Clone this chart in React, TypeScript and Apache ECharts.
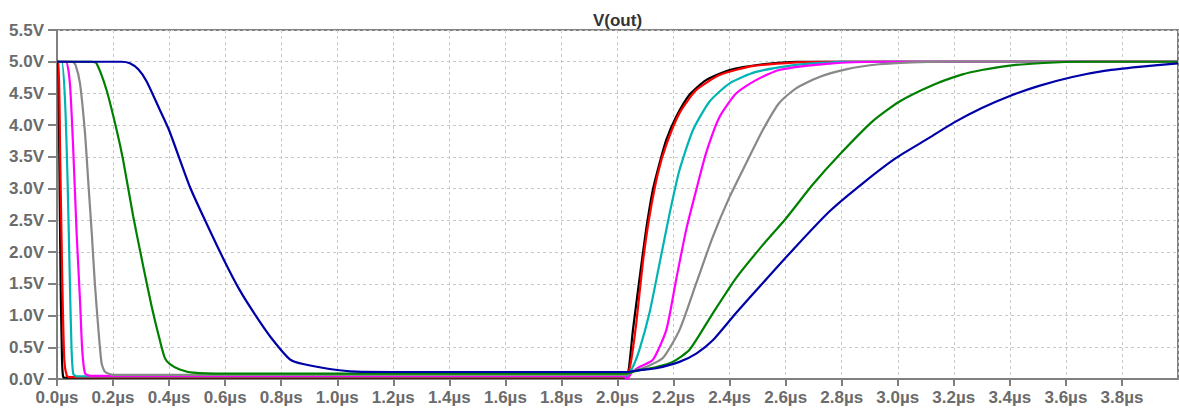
import React, { useEffect, useRef } from "react";
import * as echarts from "echarts";

const xTicksMin = 0;
const xTicksMax = 4.0;
const xStep = 0.2;
const yMin = 0;
const yMax = 5.5;
const yStep = 0.5;
const title = "V(out)";

const blackPts: number[][] = [
  [0, 5], [0.004, 5], [0.008, 3.6], [0.013, 1.5], [0.018, 0.3], [0.022, 0.03], [0.03, 0.02],
  [2.028, 0.02], [2.04, 0.15], [2.055, 0.77], [2.078, 1.56], [2.102, 2.35], [2.126, 2.98],
  [2.15, 3.4], [2.174, 3.77], [2.209, 4.13], [2.257, 4.48], [2.316, 4.71], [2.4, 4.87],
  [2.518, 4.96], [2.64, 5.0], [4.0, 5.0],
];
const redPts: number[][] = [
  [0, 5], [0.006, 5], [0.011, 3.6], [0.019, 1.5], [0.026, 0.3], [0.035, 0.05], [0.045, 0.03],
  [2.028, 0.03], [2.045, 0.2], [2.067, 0.88], [2.09, 1.82], [2.114, 2.56], [2.144, 3.24],
  [2.174, 3.69], [2.221, 4.19], [2.28, 4.55], [2.364, 4.79], [2.48, 4.93], [2.64, 4.99],
  [2.75, 5.0], [4.0, 5.0],
];
const cyanPts: number[][] = [
  [0, 5], [0.017, 5], [0.0285, 4.4], [0.038, 3.08], [0.046, 1.51], [0.052, 0.46], [0.058, 0.08],
  [0.07, 0.04], [2.028, 0.04], [2.05, 0.15], [2.078, 0.46], [2.114, 1.04], [2.15, 1.82],
  [2.186, 2.61], [2.221, 3.29], [2.269, 3.92], [2.328, 4.37], [2.4, 4.66], [2.494, 4.84],
  [2.637, 4.95], [2.81, 5.0], [4.0, 5.0],
];
const magentaPts: number[][] = [
  [0, 5], [0.032, 5], [0.046, 4.66], [0.058, 3.61], [0.07, 2.3], [0.082, 1.25], [0.09, 0.46],
  [0.1, 0.09], [0.12, 0.05], [2.02, 0.05], [2.035, 0.0], [2.05, 0.1], [2.078, 0.19],
  [2.126, 0.3], [2.174, 0.77], [2.209, 1.56], [2.245, 2.35], [2.281, 2.98], [2.316, 3.56],
  [2.364, 4.13], [2.423, 4.5], [2.494, 4.71], [2.577, 4.87], [2.756, 4.97], [2.93, 5.0],
  [4.0, 5.0],
];
const grayPts: number[][] = [
  [0, 5], [0.055, 5], [0.066, 4.95], [0.082, 4.66], [0.1, 3.87], [0.112, 3.08], [0.124, 2.3],
  [0.135, 1.51], [0.147, 0.82], [0.159, 0.25], [0.171, 0.115], [0.2, 0.065], [2.03, 0.065],
  [2.06, 0.13], [2.102, 0.19], [2.162, 0.33], [2.221, 0.77], [2.281, 1.51], [2.34, 2.24],
  [2.4, 2.87], [2.459, 3.4], [2.518, 3.92], [2.577, 4.35], [2.637, 4.58], [2.72, 4.76],
  [2.815, 4.88], [2.934, 4.96], [3.05, 4.99], [3.17, 5.0], [4.0, 5.0],
];
const greenPts: number[][] = [
  [0, 5], [0.125, 5], [0.141, 4.975], [0.177, 4.55], [0.213, 3.92], [0.236, 3.45], [0.272, 2.56],
  [0.308, 1.77], [0.338, 1.14], [0.367, 0.61], [0.385, 0.33], [0.403, 0.236], [0.438, 0.15],
  [0.486, 0.1], [0.6, 0.085], [2.03, 0.085], [2.06, 0.12], [2.138, 0.19], [2.197, 0.27],
  [2.257, 0.46], [2.34, 1.035], [2.423, 1.59], [2.518, 2.11], [2.601, 2.53], [2.696, 3.06],
  [2.791, 3.53], [2.91, 4.06], [3.005, 4.37], [3.124, 4.63], [3.231, 4.8], [3.3, 4.87],
  [3.4, 4.94], [3.52, 4.98], [3.65, 5.0], [4.0, 5.0],
];
const bluePts: number[][] = [
  [0, 5], [0.23, 5], [0.26, 4.975], [0.29, 4.88], [0.32, 4.69], [0.367, 4.24], [0.4, 3.92],
  [0.474, 3.03], [0.522, 2.56], [0.593, 1.9], [0.652, 1.4], [0.712, 0.98], [0.771, 0.61],
  [0.831, 0.31], [0.878, 0.236], [0.973, 0.158], [1.068, 0.115], [1.2, 0.11], [2.03, 0.11],
  [2.08, 0.14], [2.138, 0.17], [2.221, 0.27], [2.281, 0.4], [2.34, 0.61], [2.423, 1.04],
  [2.518, 1.51], [2.637, 2.09], [2.756, 2.64], [2.874, 3.08], [2.993, 3.48], [3.112, 3.8],
  [3.2, 4.04], [3.3, 4.27], [3.4, 4.46], [3.504, 4.62], [3.623, 4.76], [3.742, 4.86],
  [3.861, 4.92], [4.0, 4.975],
];

const traces = [
  { name: "t1", data: blackPts, color: "#000000" },
  { name: "t2", data: redPts, color: "#ff0000" },
  { name: "t3", data: cyanPts, color: "#00b4b4" },
  { name: "t4", data: magentaPts, color: "#ff00ff" },
  { name: "t5", data: grayPts, color: "#888888" },
  { name: "t6", data: greenPts, color: "#008000" },
  { name: "t7", data: bluePts, color: "#0000a8" },
];

export default function App() {
  const ref = useRef<HTMLDivElement>(null);
  useEffect(() => {
    document.body.style.margin = "0";
    const chart = echarts.init(ref.current!, null, { renderer: "svg" });
    const labelStyle = {
      color: "#6b6b6b",
      fontFamily: "Liberation Sans",
      fontWeight: "bold",
      fontSize: 17,
    };
    chart.setOption({
      animation: false,
      backgroundColor: "#ffffff",
      grid: {
        left: 57,
        right: 1,
        top: 30,
        bottom: 30,
        show: true,
        borderColor: "#808080",
        borderWidth: 2,
      },
      graphic: [
        {
          type: "text",
          x: 617.5,
          y: 20,
          style: {
            text: title,
            fill: "#333333",
            font: "bold 17px 'Liberation Sans'",
            textAlign: "center",
            textVerticalAlign: "middle",
          },
        },
      ],
      xAxis: {
        type: "value",
        min: xTicksMin,
        max: xTicksMax,
        interval: xStep,
        axisLine: { show: true, lineStyle: { color: "#808080", width: 2 } },
        axisTick: { show: true, length: 7, lineStyle: { color: "#808080", width: 2 } },
        splitLine: { show: true, lineStyle: { color: "#c8c8c8", type: [3, 3], width: 1 } },
        axisLabel: {
          ...labelStyle,
          margin: 10,
          showMaxLabel: false,
          formatter: (v: number) => v.toFixed(1) + "µs",
        },
      },
      yAxis: {
        type: "value",
        min: yMin,
        max: yMax,
        interval: yStep,
        axisLine: { show: true, lineStyle: { color: "#808080", width: 2 } },
        axisTick: { show: true, length: 9, lineStyle: { color: "#808080", width: 2 } },
        splitLine: { show: true, lineStyle: { color: "#c8c8c8", type: [3, 3], width: 1 } },
        axisLabel: {
          ...labelStyle,
          margin: 13,
          formatter: (v: number) => v.toFixed(1) + "V",
        },
      },
      series: traces.map((t) => ({
        name: t.name,
        type: "line",
        data: t.data,
        showSymbol: false,
        smooth: 0.2,
        lineStyle: { color: t.color, width: 2.2 },
        itemStyle: { color: t.color },
      })),
    });
    return () => chart.dispose();
  }, []);
  return <div ref={ref} style={{ width: 1179, height: 409 }} />;
}
